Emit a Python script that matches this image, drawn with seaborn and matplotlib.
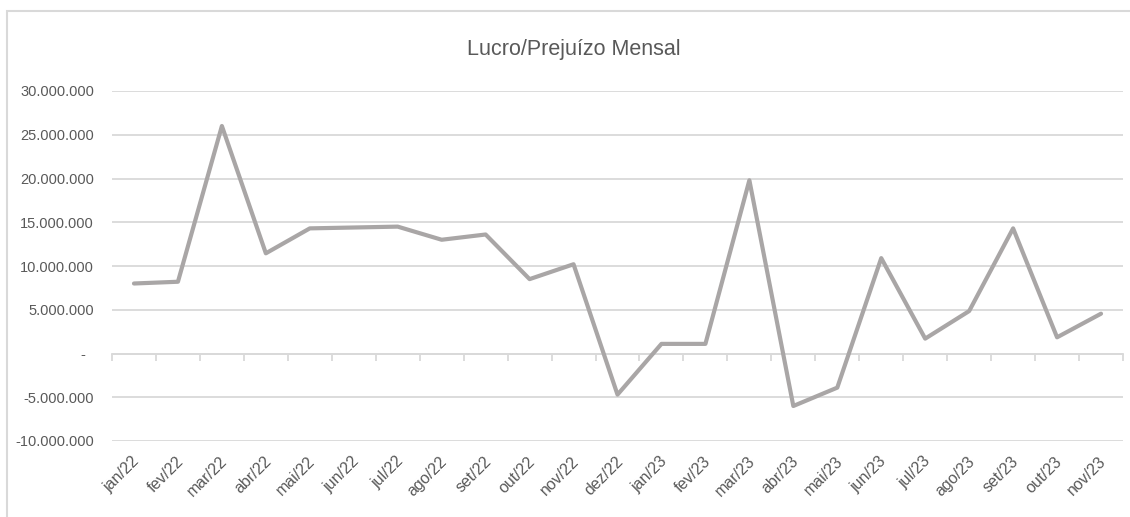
import numpy as np
import pandas as pd
import matplotlib
matplotlib.use("Agg")
import matplotlib.pyplot as plt
from matplotlib.patches import Rectangle
from matplotlib.ticker import FuncFormatter
from matplotlib.transforms import ScaledTranslation
import seaborn as sns

# ---- data ----
months = ["jan/22", "fev/22", "mar/22", "abr/22", "mai/22", "jun/22", "jul/22",
          "ago/22", "set/22", "out/22", "nov/22", "dez/22", "jan/23", "fev/23",
          "mar/23", "abr/23", "mai/23", "jun/23", "jul/23", "ago/23", "set/23",
          "out/23", "nov/23"]
profit = [8_000_000, 8_200_000, 26_000_000, 11_450_000, 14_300_000, 14_400_000,
          14_500_000, 13_000_000, 13_600_000, 8_500_000, 10_200_000, -4_700_000,
          1_100_000, 1_100_000, 19_800_000, -6_000_000, -3_900_000, 10_900_000,
          1_700_000, 4_850_000, 14_300_000, 1_850_000, 4_550_000]
y_ticks = [-10_000_000, -5_000_000, 0, 5_000_000, 10_000_000, 15_000_000,
           20_000_000, 25_000_000, 30_000_000]
title = "Lucro/Prejuízo Mensal"

sns.set_theme(style="white")
plt.rcParams['font.family'] = ['Liberation Sans', 'DejaVu Sans']

W, H = 1130, 517
fig = plt.figure(figsize=(W / 100, H / 100), dpi=100)
ax = fig.add_axes([112 / W, 1 - 441 / H, (1123 - 112) / W, (441 - 91) / H])

df = pd.DataFrame({"pos": np.arange(len(months)), "value": profit})
sns.lineplot(data=df, x="pos", y="value", ax=ax, color="#A9A6A6", linewidth=3.0,
             sort=False, zorder=3)
for ln in ax.lines:
    ln.set_solid_joinstyle("round")
    ln.set_solid_capstyle("round")

ymin, ymax = y_ticks[0], y_ticks[-1]
ax.set_ylim(ymin, ymax)
ax.set_xlim(-0.5, len(months) - 0.5)
ax.set_yticks(y_ticks)


def fmt(v, pos):
    if v == 0:
        return "-  "
    s = f"{abs(int(v)):,}".replace(",", ".")
    return ("-" if v < 0 else "") + s


ax.yaxis.set_major_formatter(FuncFormatter(fmt))
ax.set_xticks(np.arange(len(months)))
ax.set_xticklabels(months, rotation=45, ha="right", va="center",
                   rotation_mode="anchor")
ax.tick_params(axis="x", length=0, pad=13, labelsize=11.5, labelcolor="#595959")
ax.tick_params(axis="y", length=0, pad=13, labelsize=10.5, labelcolor="#595959")
shift = ScaledTranslation(3 / 100, 0, fig.dpi_scale_trans)
for lab in ax.get_xticklabels():
    lab.set_transform(lab.get_transform() + shift)
ax.set_xlabel("")
ax.set_ylabel("")
ax.yaxis.grid(True, color="#D9D9D9", linewidth=1.3, zorder=0)
ax.xaxis.grid(False)
for s in ax.spines.values():
    s.set_visible(False)

# category axis at zero with boundary tick marks
zero_loc = (0 - ymin) / (ymax - ymin)
sec = ax.secondary_xaxis(zero_loc)
sec.set_xticks(np.arange(-0.5, len(months), 1))
sec.tick_params(axis="x", length=5, width=1.3, color="#D9D9D9", labelbottom=False,
                direction="out")
sec.spines["bottom"].set_color("#D9D9D9")
sec.spines["bottom"].set_linewidth(1.3)
for k in ("top", "left", "right"):
    sec.spines[k].set_visible(False)

fig.text(574 / W, 1 - 50 / H, title, ha="center", va="center", fontsize=15.5,
         color="#595959")

# chart border
fig.add_artist(Rectangle((7 / W, -0.1), 1.2, (H - 11) / H + 0.1,
                         transform=fig.transFigure, fill=False,
                         edgecolor="#D9D9D9", linewidth=1.5))

fig.savefig("out.png", dpi=100, facecolor="white")
